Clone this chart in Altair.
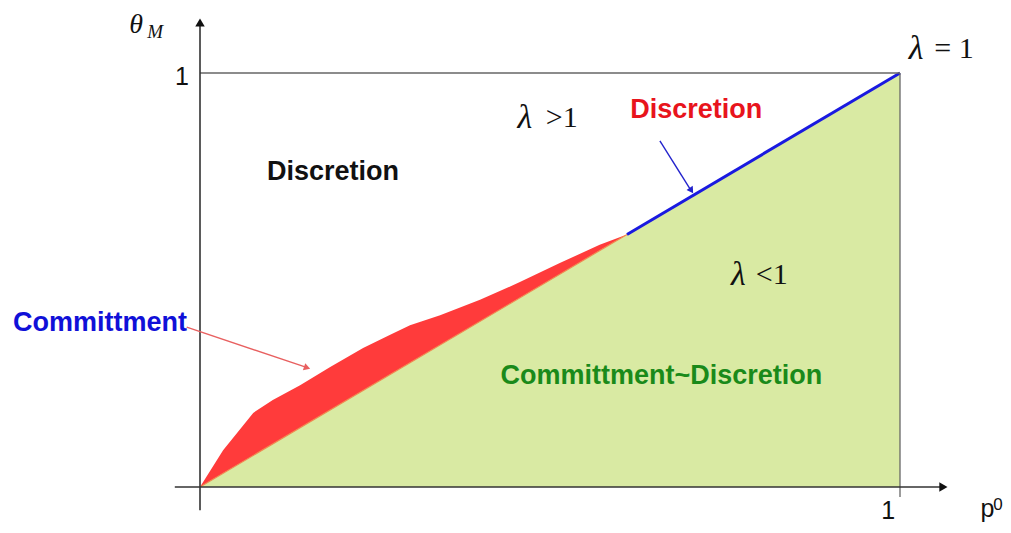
import altair as alt
import pandas as pd

# ---- data ----
curve_x = [0.0, 0.033, 0.076, 0.104, 0.143, 0.186, 0.233, 0.271, 0.300, 0.343, 0.400, 0.457, 0.514, 0.571, 0.610]
curve_y = [0.0, 0.089, 0.179, 0.210, 0.246, 0.290, 0.336, 0.367, 0.391, 0.415, 0.452, 0.495, 0.541, 0.585, 0.610]
diag_x = [0.0, 1.0]
diag_y = [0.0, 1.0]
blue_x = [0.61, 1.0]
blue_y = [0.61, 1.0]

bold_labels = ["Discretion", "Discretion", "Committment", "Committment~Discretion"]
bold_x = [0.190, 0.709, -0.143, 0.659]
bold_y = [0.761, 0.911, 0.396, 0.268]
bold_colors = ["#111111", "#e8141c", "#1010d8", "#1a8a1a"]

lam_x = [1.023, 0.464, 0.769]
lam_y = [1.058, 0.891, 0.512]
rel_labels = ["= 1", ">1", "<1"]
rel_x = [1.049, 0.494, 0.794]

tick_labels = ["1", "1", "p"]
tick_x = [-0.0257, 0.983, 1.125]
tick_y = [0.971, -0.0773, -0.0725]

# domain chosen so data 0..1 maps onto the drawn axes
X0, X1 = -0.27429, 1.14714
Y0, Y1 = -0.09179, 1.15700

xs = alt.Scale(domain=[X0, X1], nice=False, zero=False)
ys = alt.Scale(domain=[Y0, Y1], nice=False, zero=False)

def X(f="x"):
    return alt.X(f + ":Q", scale=xs, axis=None)

def Y(f="y"):
    return alt.Y(f + ":Q", scale=ys, axis=None)

# green triangle
green = alt.Chart(pd.DataFrame({"x": diag_x, "y": diag_y, "y0": [0.0, 0.0]})).mark_area(
    color="#d9eaa3", opacity=1
).encode(x=X(), y=Y(), y2="y0:Q")

# red region between curve and diagonal
red = alt.Chart(pd.DataFrame({"x": curve_x, "y": curve_y, "y2": curve_x})).mark_area(
    color="#ff3b3b", opacity=1
).encode(x=X(), y=Y(), y2="y2:Q")

red_edge = alt.Chart(pd.DataFrame({"x": [0.0, 0.61], "y": [0.0, 0.61]})).mark_line(
    color="#f08a50", strokeWidth=1.2
).encode(x=X(), y=Y())

blue = alt.Chart(pd.DataFrame({"x": blue_x, "y": blue_y})).mark_line(
    color="#1a1ae0", strokeWidth=3
).encode(x=X(), y=Y())

# frame lines: y=1 horizontal, x=1 vertical
frame = alt.Chart(pd.DataFrame({
    "x": [0.0, 1.0], "y": [1.0, -0.024], "x2": [1.0, 1.0], "y2": [1.0, 1.0]
})).mark_rule(color="#666666", strokeWidth=1.3).encode(
    x=X(), y=Y(), x2="x2:Q", y2="y2:Q"
)

# axes
axes = alt.Chart(pd.DataFrame({
    "x": [-0.036, 0.0], "y": [0.0, -0.056], "x2": [1.058, 0.0], "y2": [0.0, 1.118]
})).mark_rule(color="#333333", strokeWidth=1.6).encode(
    x=X(), y=Y(), x2="x2:Q", y2="y2:Q"
)

heads = alt.Chart(pd.DataFrame({
    "x": [1.062, 0.0], "y": [0.0, 1.122], "a": [90, 0]
})).mark_point(shape="triangle-up", filled=True, color="#111111", size=90, opacity=1).encode(
    x=X(), y=Y(), angle=alt.Angle("a:Q", scale=None)
)

# annotation arrows
arrows = alt.Chart(pd.DataFrame({
    "x": [-0.019, 0.657], "y": [0.386, 0.836], "x2": [0.150, 0.700], "y2": [0.290, 0.720],
    "c": ["#e86060", "#2222cc"]
})).mark_rule(strokeWidth=1.4).encode(
    x=X(), y=Y(), x2="x2:Q", y2="y2:Q", color=alt.Color("c:N", scale=None)
)

arrow_heads = alt.Chart(pd.DataFrame({
    "x": [0.153, 0.702], "y": [0.288, 0.716], "a": [109, 147], "c": ["#e86060", "#2222cc"]
})).mark_point(shape="triangle-up", filled=True, size=55, opacity=1).encode(
    x=X(), y=Y(), angle=alt.Angle("a:Q", scale=None), color=alt.Color("c:N", scale=None)
)

# texts
bold = alt.Chart(pd.DataFrame({"x": bold_x, "y": bold_y, "t": bold_labels, "c": bold_colors})).mark_text(
    font="Liberation Sans", fontWeight="bold", fontSize=27, align="center", baseline="middle"
).encode(x=X(), y=Y(), text="t:N", color=alt.Color("c:N", scale=None))

lam = alt.Chart(pd.DataFrame({"x": lam_x, "y": lam_y, "t": ["λ"] * 3})).mark_text(
    font="Liberation Serif", fontStyle="italic", fontSize=34, align="center", baseline="middle", color="#111111"
).encode(x=X(), y=Y(), text="t:N")

rel = alt.Chart(pd.DataFrame({"x": rel_x, "y": lam_y, "t": rel_labels})).mark_text(
    font="Liberation Serif", fontSize=30, align="left", baseline="middle", color="#111111"
).encode(x=X(), y=Y(), text="t:N")

ticks = alt.Chart(pd.DataFrame({"x": tick_x, "y": tick_y, "t": tick_labels})).mark_text(
    font="Liberation Sans", fontSize=25, align="center", baseline="alphabetic", color="#111111"
).encode(x=X(), y=Y(), text="t:N")

sup = alt.Chart(pd.DataFrame({"x": [1.140], "y": [-0.0556], "t": ["0"]})).mark_text(
    font="Liberation Sans", fontSize=17, align="center", baseline="alphabetic", color="#111111"
).encode(x=X(), y=Y(), text="t:N")

theta = alt.Chart(pd.DataFrame({"x": [-0.0914], "y": [1.0966], "t": ["θ"]})).mark_text(
    font="Liberation Serif", fontStyle="italic", fontSize=28, align="center", baseline="alphabetic", color="#111111"
).encode(x=X(), y=Y(), text="t:N")

theta_sub = alt.Chart(pd.DataFrame({"x": [-0.0640], "y": [1.0845], "t": ["M"]})).mark_text(
    font="Liberation Serif", fontStyle="italic", fontSize=19, align="center", baseline="alphabetic", color="#111111"
).encode(x=X(), y=Y(), text="t:N")

chart = alt.layer(
    green, red, red_edge, blue, frame, axes, heads, arrows, arrow_heads,
    bold, lam, rel, ticks, sup, theta, theta_sub
).properties(
    width=995, height=517, autosize=alt.AutoSizeParams(type="none"), padding=0
).configure_view(stroke=None)

chart.save("out.html", embed_options={"renderer": "svg", "actions": False})
